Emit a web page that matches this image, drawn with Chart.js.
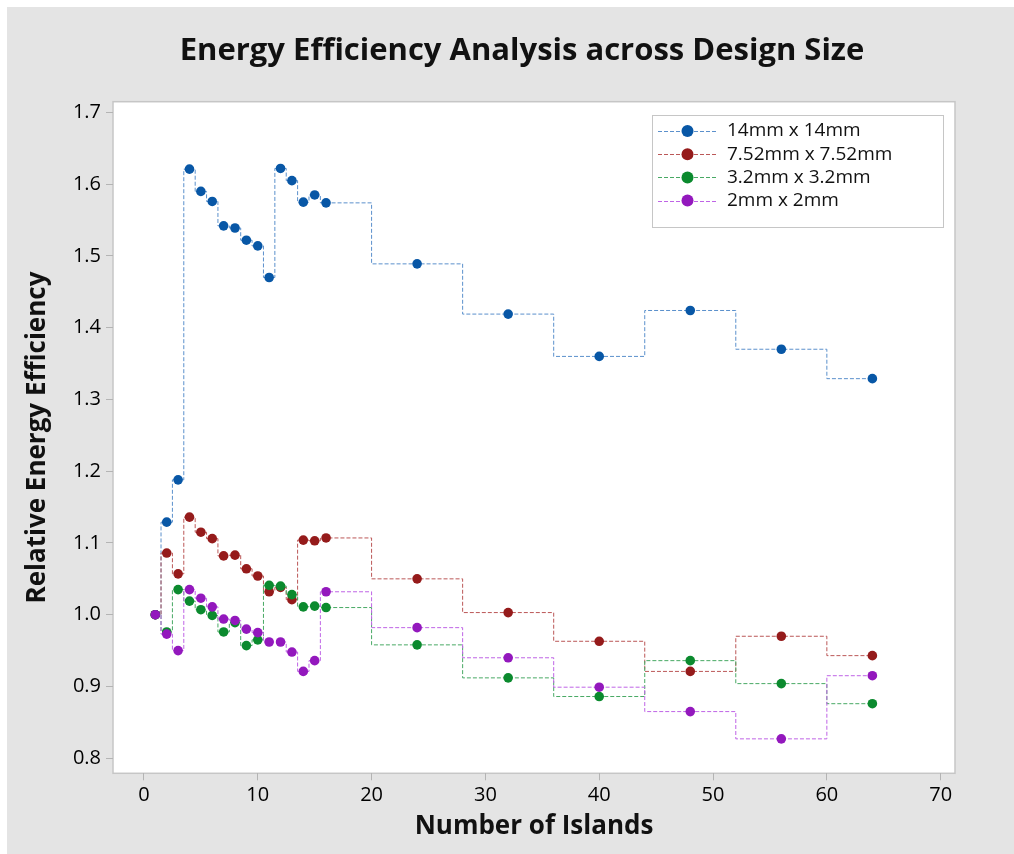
<!DOCTYPE html>
<html>
<head>
<meta charset="utf-8">
<script src="https://cdn.jsdelivr.net/npm/chart.js@4.4.0/dist/chart.umd.min.js"></script>
<style>
  body { margin: 0; background: #fff; }
  #wrap { position: absolute; left: 7px; top: 7px; width: 1007px; height: 847px; background: #e4e4e4; }
</style>
</head>
<body>
<div id="wrap"><canvas id="chart" width="1007" height="847"></canvas></div>
<script>
// number of islands on the x axis
const islands = [1, 2, 3, 4, 5, 6, 7, 8, 9, 10, 11, 12, 13, 14, 15, 16, 24, 32, 40, 48, 56, 64];

// relative energy efficiency per design size
const eff14 = [1.0, 1.129, 1.188, 1.621, 1.590, 1.576, 1.542, 1.539, 1.522, 1.514, 1.470, 1.622, 1.605, 1.575, 1.585, 1.574, 1.489, 1.419, 1.360, 1.424, 1.370, 1.329];
const eff752 = [1.0, 1.086, 1.057, 1.136, 1.115, 1.106, 1.082, 1.083, 1.064, 1.054, 1.032, 1.038, 1.021, 1.104, 1.103, 1.107, 1.050, 1.003, 0.963, 0.921, 0.970, 0.943];
const eff32 = [1.0, 0.976, 1.035, 1.019, 1.007, 0.999, 0.976, 0.989, 0.957, 0.965, 1.041, 1.040, 1.028, 1.011, 1.012, 1.010, 0.958, 0.912, 0.886, 0.936, 0.904, 0.876];
const eff2 = [1.0, 0.973, 0.950, 1.035, 1.023, 1.011, 0.994, 0.992, 0.980, 0.975, 0.962, 0.962, 0.948, 0.921, 0.936, 1.032, 0.982, 0.940, 0.899, 0.865, 0.827, 0.915];

const seriesNames = ["14mm x 14mm", "7.52mm x 7.52mm", "3.2mm x 3.2mm", "2mm x 2mm"];
const xTicks = [0, 10, 20, 30, 40, 50, 60, 70];
const yTicks = [0.8, 0.9, 1.0, 1.1, 1.2, 1.3, 1.4, 1.5, 1.6, 1.7];

const dotColors = ["#0857a6", "#951b1b", "#0b8a2e", "#9318bd"];
const lineColors = ["#5b90cc", "#bb5757", "#48a964", "#bf64e6"];

const FONT = "'Open Sans', 'Noto Sans', sans-serif";
Chart.defaults.font.family = FONT;
Chart.defaults.color = "#111";

function makeDataset(i, values) {
  return {
    label: seriesNames[i],
    data: islands.map((x, k) => ({ x: x, y: values[k] })),
    stepped: "middle",
    borderColor: lineColors[i],
    borderWidth: 1,
    borderDash: [4, 2],
    backgroundColor: dotColors[i],
    pointBackgroundColor: dotColors[i],
    pointBorderWidth: 0,
    pointRadius: 4.8,
    fill: false,
    order: 4 - i,
  };
}

// white plot area with thin grey frame
const plotBackground = {
  id: "plotBackground",
  beforeDraw(chart) {
    const { ctx, chartArea: a } = chart;
    ctx.save();
    ctx.fillStyle = "#ffffff";
    ctx.fillRect(a.left, a.top, a.right - a.left, a.bottom - a.top);
    ctx.strokeStyle = "#c6c6c6";
    ctx.lineWidth = 1.5;
    ctx.strokeRect(a.left, a.top, a.right - a.left, a.bottom - a.top);
    ctx.restore();
  },
};

const titleText = {
  id: "titleText",
  afterDraw(chart) {
    const ctx = chart.ctx;
    ctx.save();
    ctx.font = "bold 31px " + FONT;
    ctx.fillStyle = "#111";
    ctx.textAlign = "center";
    ctx.textBaseline = "alphabetic";
    ctx.fillText("Energy Efficiency Analysis across Design Size", 515, 53);
    ctx.restore();
  },
};

// legend box inside the plot, marker = dashed line with a dot
const legendBox = {
  id: "legendBox",
  afterDraw(chart) {
    const ctx = chart.ctx;
    const box = { x: 645, y: 108, w: 291, h: 112 };
    ctx.save();
    ctx.fillStyle = "#fff";
    ctx.fillRect(box.x, box.y, box.w, box.h);
    ctx.strokeStyle = "#c6c6c6";
    ctx.lineWidth = 1;
    ctx.strokeRect(box.x + 0.5, box.y + 0.5, box.w, box.h);
    chart.data.datasets.forEach((ds, i) => {
      const y = 124 + i * 23.2;
      ctx.strokeStyle = lineColors[i];
      ctx.setLineDash([4, 2]);
      ctx.beginPath();
      ctx.moveTo(651, Math.round(y) + 0.5);
      ctx.lineTo(709, Math.round(y) + 0.5);
      ctx.stroke();
      ctx.setLineDash([]);
      ctx.fillStyle = dotColors[i];
      ctx.beginPath();
      ctx.arc(680.5, y, 6, 0, Math.PI * 2);
      ctx.fill();
      ctx.fillStyle = "#111";
      ctx.font = "19px " + FONT;
      ctx.textAlign = "left";
      ctx.textBaseline = "middle";
      ctx.fillText(ds.label, 720, y);
    });
    ctx.restore();
  },
};

new Chart(document.getElementById("chart"), {
  type: "line",
  data: {
    datasets: [
      makeDataset(0, eff14),
      makeDataset(1, eff752),
      makeDataset(2, eff32),
      makeDataset(3, eff2),
    ],
  },
  options: {
    responsive: false,
    animation: false,
    events: [],
    layout: { padding: { top: 94.7, right: 59, left: 0, bottom: 0 } },
    plugins: { legend: { display: false }, tooltip: { enabled: false } },
    scales: {
      x: {
        type: "linear",
        min: -2.72,
        max: 71.26,
        afterBuildTicks: (scale) => {
          scale.ticks = xTicks.map((v) => ({ value: v }));
        },
        afterFit: (scale) => {
          scale.height = 80.7;
        },
        border: { display: false },
        grid: { drawOnChartArea: false, tickLength: 7, color: "#b4b4b4" },
        ticks: { font: { size: 20 }, color: "#000", padding: 3, maxRotation: 0 },
        title: {
          display: true,
          text: "Number of Islands",
          font: { size: 26, weight: "bold" },
          padding: { top: 0, bottom: 12 },
          color: "#111",
        },
      },
      y: {
        min: 0.779,
        max: 1.715,
        afterBuildTicks: (scale) => {
          scale.ticks = yTicks.map((v) => ({ value: v }));
        },
        afterFit: (scale) => {
          scale.width = 106;
        },
        border: { display: false },
        grid: { drawOnChartArea: false, tickLength: 7, color: "#b4b4b4" },
        ticks: {
          font: { size: 20 },
          color: "#000",
          padding: 5,
          callback: (v) => v.toFixed(1),
        },
        title: {
          display: true,
          text: "Relative Energy Efficiency",
          font: { size: 26, weight: "bold" },
          padding: { top: 15, bottom: 0 },
          color: "#111",
        },
      },
    },
  },
  plugins: [plotBackground, titleText, legendBox],
});
</script>
</body>
</html>
